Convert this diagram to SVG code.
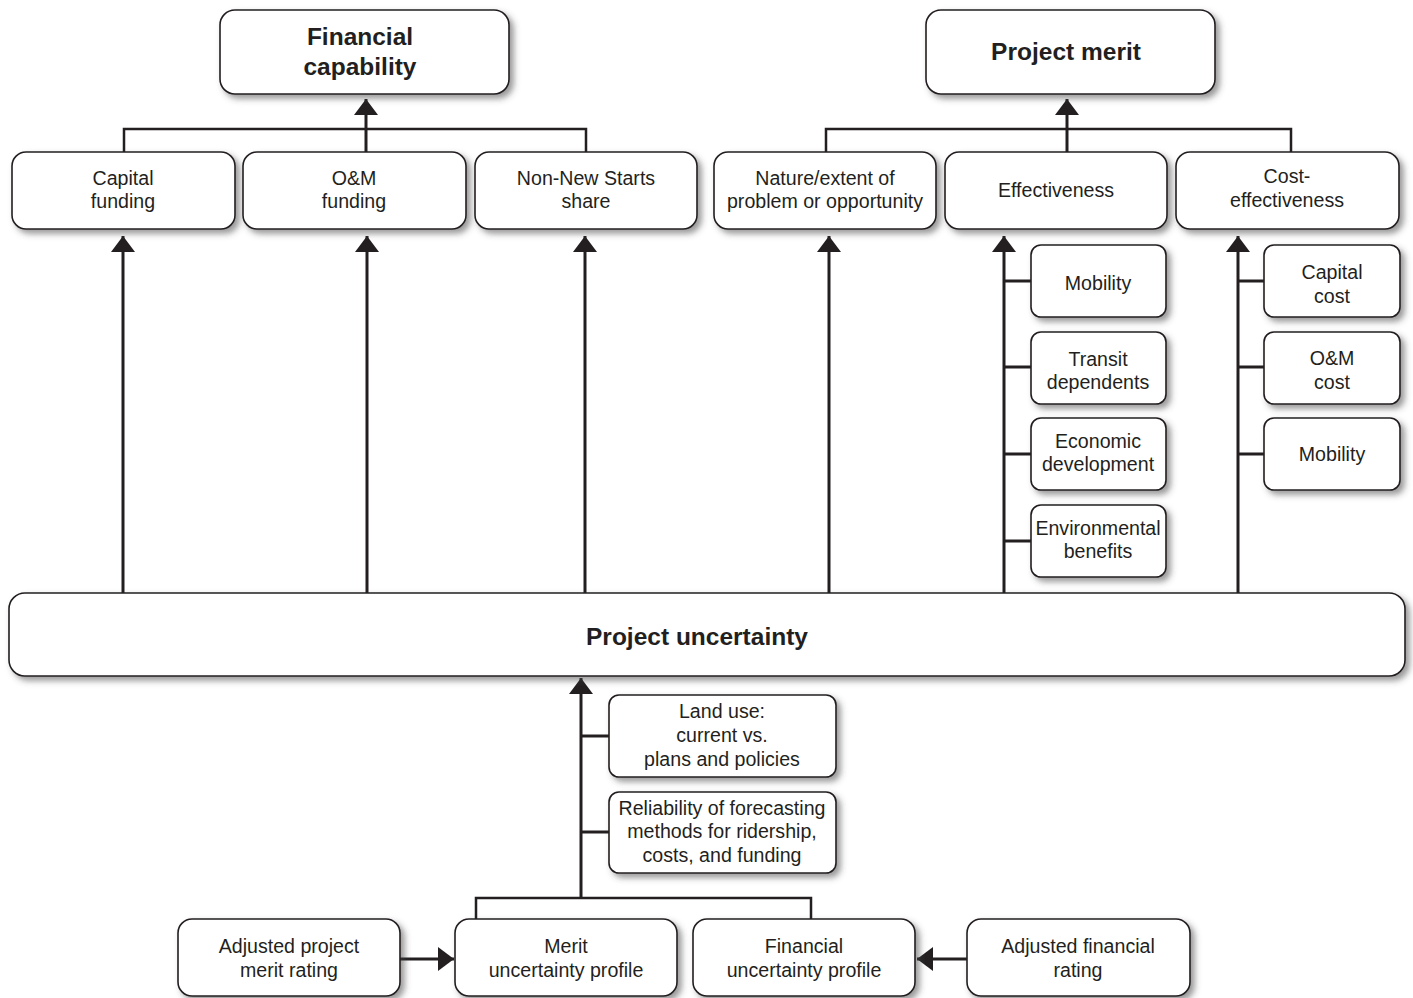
<svg xmlns="http://www.w3.org/2000/svg" width="1413" height="998" viewBox="0 0 1413 998">
<style>
.box{fill:#fff;stroke:#231f20;stroke-width:1.6;filter:url(#sh)}
.t{font-family:"Liberation Sans",Arial,sans-serif;font-size:19.6px;fill:#231f20;text-anchor:middle}
.b{font-family:"Liberation Sans",Arial,sans-serif;font-size:24.5px;font-weight:bold;fill:#231f20;text-anchor:middle}
.c{fill:none;stroke:#231f20;stroke-width:3}
.bus{fill:none;stroke:#231f20;stroke-width:2.5}
</style>
<defs>
<filter id="sh" x="-10%" y="-20%" width="130%" height="160%">
<feDropShadow dx="4" dy="4" stdDeviation="3" flood-color="#444" flood-opacity="0.55"/>
</filter>
<marker id="ah" markerUnits="userSpaceOnUse" markerWidth="16" markerHeight="24" viewBox="0 0 16 24" refX="16" refY="12" orient="auto">
<path d="M0,0 L16,12 L0,24 z" fill="#231f20"/>
</marker>
</defs>
<rect width="1413" height="998" fill="#fff"/>

<g id="connectors">
<!-- financial capability bus -->
<path class="bus" d="M124,152 V129 H586 V152"/>
<path class="c" d="M366,152 V99" marker-end="url(#ah)"/>
<!-- project merit bus -->
<path class="bus" d="M826,152 V129 H1291 V152"/>
<path class="c" d="M1067,152 V99" marker-end="url(#ah)"/>
<!-- up from project uncertainty -->
<path class="c" d="M123,593 V236" marker-end="url(#ah)"/>
<path class="c" d="M367,593 V236" marker-end="url(#ah)"/>
<path class="c" d="M585,593 V236" marker-end="url(#ah)"/>
<path class="c" d="M829,593 V236" marker-end="url(#ah)"/>
<path class="c" d="M1004,593 V236" marker-end="url(#ah)"/>
<path class="c" d="M1238,593 V236" marker-end="url(#ah)"/>
<!-- effectiveness ticks -->
<path class="c" d="M1004,281 H1031 M1004,367 H1031 M1004,454 H1031 M1004,541 H1031"/>
<!-- cost-effectiveness ticks -->
<path class="c" d="M1238,281 H1264 M1238,367 H1264 M1238,454 H1264"/>
<!-- bottom -->
<path class="bus" d="M476,919 V898 H811 V919"/>
<path class="c" d="M581,898 V678" marker-end="url(#ah)"/>
<path class="c" d="M581,736 H609 M581,832 H609"/>
<path class="c" d="M400,959 H454" marker-end="url(#ah)"/>
<path class="c" d="M967,959 H917" marker-end="url(#ah)"/>
</g>

<g id="financial-capability">
<rect class="box" x="220" y="10" width="289" height="84" rx="15"/>
<text class="b" x="360" y="45">Financial</text>
<text class="b" x="360" y="75">capability</text>
</g>
<g id="project-merit">
<rect class="box" x="926" y="10" width="289" height="84" rx="15"/>
<text class="b" x="1066" y="60">Project merit</text>
</g>

<g id="capital-funding">
<rect class="box" x="12" y="152" width="223" height="77" rx="14"/>
<text class="t" x="123" y="185">Capital</text>
<text class="t" x="123" y="208">funding</text>
</g>
<g id="om-funding">
<rect class="box" x="243" y="152" width="223" height="77" rx="14"/>
<text class="t" x="354" y="185">O&amp;M</text>
<text class="t" x="354" y="208">funding</text>
</g>
<g id="non-new-starts">
<rect class="box" x="475" y="152" width="222" height="77" rx="14"/>
<text class="t" x="586" y="185">Non-New Starts</text>
<text class="t" x="586" y="208">share</text>
</g>
<g id="nature-extent">
<rect class="box" x="714" y="152" width="222" height="77" rx="14"/>
<text class="t" x="825" y="185">Nature/extent of</text>
<text class="t" x="825" y="208">problem or opportunity</text>
</g>
<g id="effectiveness">
<rect class="box" x="945" y="152" width="222" height="77" rx="14"/>
<text class="t" x="1056" y="197">Effectiveness</text>
</g>
<g id="cost-effectiveness">
<rect class="box" x="1176" y="152" width="223" height="77" rx="14"/>
<text class="t" x="1287" y="183">Cost-</text>
<text class="t" x="1287" y="207">effectiveness</text>
</g>

<g id="eff-mobility">
<rect class="box" x="1031" y="245" width="135" height="72" rx="10"/>
<text class="t" x="1098" y="290">Mobility</text>
</g>
<g id="transit-dependents">
<rect class="box" x="1031" y="332" width="135" height="72" rx="10"/>
<text class="t" x="1098" y="366">Transit</text>
<text class="t" x="1098" y="389">dependents</text>
</g>
<g id="economic-development">
<rect class="box" x="1031" y="418" width="135" height="72" rx="10"/>
<text class="t" x="1098" y="448">Economic</text>
<text class="t" x="1098" y="471">development</text>
</g>
<g id="environmental-benefits">
<rect class="box" x="1031" y="505" width="135" height="72" rx="10"/>
<text class="t" x="1098" y="535">Environmental</text>
<text class="t" x="1098" y="558">benefits</text>
</g>

<g id="capital-cost">
<rect class="box" x="1264" y="245" width="136" height="72" rx="10"/>
<text class="t" x="1332" y="279">Capital</text>
<text class="t" x="1332" y="303">cost</text>
</g>
<g id="om-cost">
<rect class="box" x="1264" y="332" width="136" height="72" rx="10"/>
<text class="t" x="1332" y="365">O&amp;M</text>
<text class="t" x="1332" y="389">cost</text>
</g>
<g id="cost-mobility">
<rect class="box" x="1264" y="418" width="136" height="72" rx="10"/>
<text class="t" x="1332" y="461">Mobility</text>
</g>

<g id="project-uncertainty">
<rect class="box" x="9" y="593" width="1396" height="83" rx="16"/>
<text class="b" x="697" y="645">Project uncertainty</text>
</g>

<g id="land-use">
<rect class="box" x="609" y="695" width="227" height="82" rx="10"/>
<text class="t" x="722" y="718">Land use:</text>
<text class="t" x="722" y="742">current vs.</text>
<text class="t" x="722" y="766">plans and policies</text>
</g>
<g id="reliability">
<rect class="box" x="609" y="792" width="227" height="81" rx="10"/>
<text class="t" x="722" y="815">Reliability of forecasting</text>
<text class="t" x="722" y="838">methods for ridership,</text>
<text class="t" x="722" y="862">costs, and funding</text>
</g>

<g id="adjusted-merit">
<rect class="box" x="178" y="919" width="222" height="77" rx="14"/>
<text class="t" x="289" y="953">Adjusted project</text>
<text class="t" x="289" y="977">merit rating</text>
</g>
<g id="merit-uncertainty">
<rect class="box" x="455" y="919" width="222" height="77" rx="14"/>
<text class="t" x="566" y="953">Merit</text>
<text class="t" x="566" y="977">uncertainty profile</text>
</g>
<g id="financial-uncertainty">
<rect class="box" x="693" y="919" width="222" height="77" rx="14"/>
<text class="t" x="804" y="953">Financial</text>
<text class="t" x="804" y="977">uncertainty profile</text>
</g>
<g id="adjusted-financial">
<rect class="box" x="967" y="919" width="223" height="77" rx="14"/>
<text class="t" x="1078" y="953">Adjusted financial</text>
<text class="t" x="1078" y="977">rating</text>
</g>
</svg>
